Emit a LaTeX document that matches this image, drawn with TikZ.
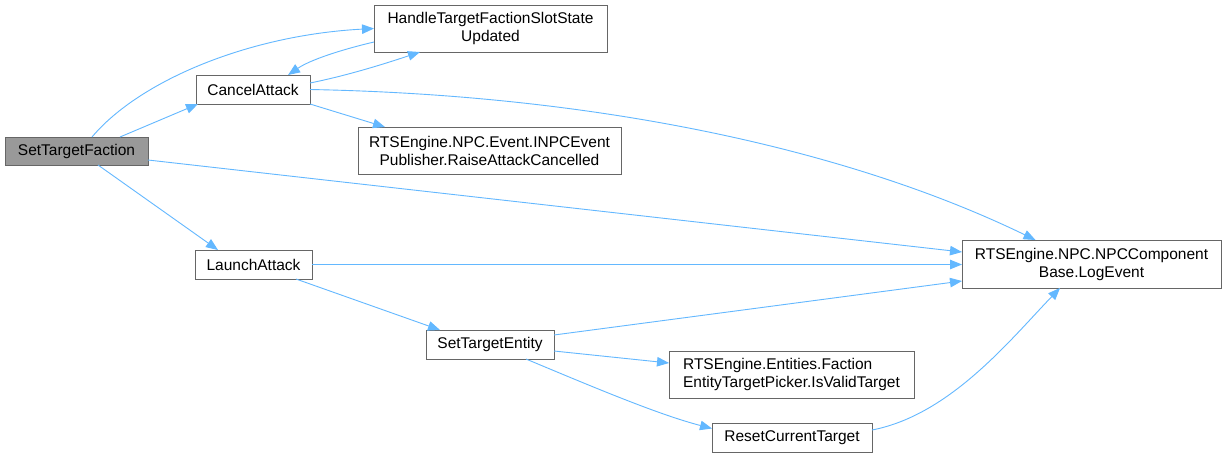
\documentclass[tikz,border=0pt]{standalone}
\usepackage{fontspec}
\setmainfont{Liberation Sans}
\usepackage{tikz}
\usetikzlibrary{arrows.meta}

\begin{document}
\begin{tikzpicture}[x=1pt,y=-1pt,
  fnode/.style={draw={rgb,255:red,102;green,102;blue,102},fill=white,line width=0.9pt,inner sep=0pt,outer sep=0pt,font=\fontsize{15.5}{18}\selectfont,align=center},
  rootnode/.style={fnode,fill={rgb,255:red,153;green,153;blue,153}},
  calledge/.style={draw={rgb,255:red,99;green,184;blue,255},line width=0.9pt,-{Triangle[length=12pt,width=9.5pt]}}]
\path[use as bounding box] (0,0) rectangle (1226,456);
\path[fill=white,draw=none] (0,0) rectangle (1226,456);
\node[rootnode,minimum width=143,minimum height=28] (stf) at (76.5,151) {SetTargetFaction};
\node[fnode,minimum width=114,minimum height=29] (cancel) at (253,89.5) {CancelAttack};
\node[fnode,minimum width=233,minimum height=47] (handle) at (490.5,28.5) {HandleTargetFactionSlotState\\Updated};
\node[fnode,minimum width=263,minimum height=47] (raise) at (489.5,150.5) {RTSEngine.NPC.Event.INPCEvent\\Publisher.RaiseAttackCancelled};
\node[fnode,minimum width=117,minimum height=29] (launch) at (253.5,264.5) {LaunchAttack};
\node[fnode,minimum width=259,minimum height=48] (logev) at (1091.5,264) {RTSEngine.NPC.NPCComponent\\Base.LogEvent};
\node[fnode,minimum width=128,minimum height=29] (ste) at (490,344.5) {SetTargetEntity};
\node[fnode,minimum width=245,minimum height=47,align=left] (valid) at (791.5,374.5) {RTSEngine.Entities.Faction\\EntityTargetPicker.IsValidTarget};
\node[fnode,minimum width=160,minimum height=29] (reset) at (792,437.5) {ResetCurrentTarget};
\draw[calledge] ([xshift=15.5pt]stf.north) .. controls (140,80) and (250,35) .. (handle.west);
\draw[calledge] ([xshift=43.5pt]stf.north) -- ([xshift=-55pt]cancel.south);
\draw[calledge] ([xshift=21.5pt]stf.south) -- ([xshift=-35.5pt]launch.north);
\draw[calledge] ([yshift=-9pt]stf.east) -- ([yshift=12pt]logev.west);
\draw[calledge] ([yshift=6.5pt]cancel.east) .. controls (350,75) and (390,62) .. ([xshift=-70.5pt]handle.south);
\draw[calledge] ([yshift=-13.5pt]handle.west) .. controls (340,50) and (310,60) .. ([xshift=35pt]cancel.north);
\draw[calledge] (cancel.south east) -- ([xshift=-104.5pt]raise.north);
\draw[calledge] (cancel.east) .. controls (600,95) and (850,150) .. ([xshift=-56pt]logev.north);
\draw[calledge] (launch.east) -- (launch.east -| logev.west);
\draw[calledge] ([xshift=42.5pt]launch.south) -- ([xshift=-50pt]ste.north);
\draw[calledge] ([yshift=9.5pt]ste.east) -- ([yshift=-17pt]logev.west);
\draw[calledge] ([yshift=-6.5pt]ste.east) -- ([yshift=11.5pt]valid.west);
\draw[calledge] ([xshift=36pt]ste.south) .. controls (600,390) and (660,415) .. ([yshift=9pt]reset.west);
\draw[calledge] ([yshift=7.5pt]reset.east) .. controls (950,415) and (1010,340) .. ([xshift=-31.5pt]logev.south);
\end{tikzpicture}
\end{document}
